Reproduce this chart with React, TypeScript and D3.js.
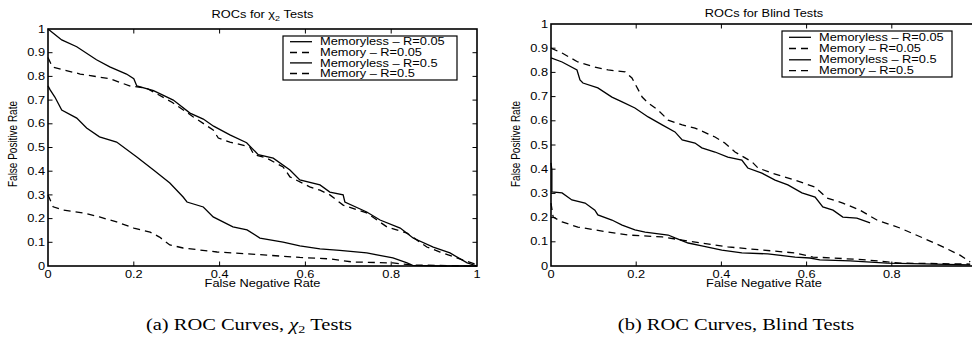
import * as d3 from "d3";

type Pt = [number, number];

// tick values
const xTicks = [0, 0.2, 0.4, 0.6, 0.8, 1];
const yTicks = [0, 0.1, 0.2, 0.3, 0.4, 0.5, 0.6, 0.7, 0.8, 0.9, 1];

const legendLabels = [
    "Memoryless \u2013 R=0.05",
    "Memory \u2013 R=0.05",
    "Memoryless \u2013 R=0.5",
    "Memory \u2013 R=0.5",
];
const legendDashed = [false, true, false, true];

// (a) chi2 tests
const chiMemorylessR005: Pt[] = [
    [0, 1], [0.032, 0.954], [0.067, 0.925], [0.113, 0.87], [0.144, 0.84], [0.183, 0.81], [0.2, 0.79],
    [0.207, 0.76], [0.246, 0.74], [0.292, 0.7], [0.331, 0.645], [0.362, 0.62], [0.386, 0.59],
    [0.424, 0.553], [0.463, 0.52], [0.49, 0.47], [0.525, 0.455], [0.564, 0.405], [0.587, 0.363],
    [0.634, 0.342], [0.657, 0.312], [0.688, 0.3], [0.692, 0.27], [0.743, 0.228], [0.774, 0.194],
    [0.821, 0.16], [0.851, 0.118], [0.898, 0.08], [0.937, 0.055], [0.977, 0.013], [1, 0],
];
const chiMemoryR005: Pt[] = [
    [0, 0.88], [0.01, 0.84], [0.075, 0.81], [0.145, 0.79], [0.19, 0.76], [0.23, 0.75], [0.29, 0.69],
    [0.338, 0.63], [0.385, 0.574], [0.397, 0.54], [0.424, 0.523], [0.47, 0.503], [0.48, 0.47],
    [0.51, 0.455], [0.548, 0.418], [0.564, 0.376], [0.61, 0.334], [0.634, 0.32], [0.657, 0.3],
    [0.688, 0.257], [0.743, 0.224], [0.79, 0.165], [0.837, 0.139], [0.883, 0.08], [0.914, 0.059],
    [0.953, 0.034], [1, 0.005],
];
const chiMemorylessR05: Pt[] = [
    [0, 0.76], [0.005, 0.743], [0.016, 0.713], [0.032, 0.658], [0.067, 0.624], [0.09, 0.582],
    [0.12, 0.545], [0.16, 0.523], [0.207, 0.46], [0.246, 0.405], [0.284, 0.35], [0.315, 0.291],
    [0.324, 0.27], [0.362, 0.249], [0.385, 0.207], [0.431, 0.165], [0.464, 0.152], [0.494, 0.118],
    [0.548, 0.101], [0.587, 0.085], [0.634, 0.072], [0.68, 0.066], [0.743, 0.055], [0.804, 0.034],
    [0.837, 0.013], [0.85, 0.003], [0.914, 0], [1, 0],
];
const chiMemoryR05: Pt[] = [
    [0, 0.3], [0.012, 0.25], [0.035, 0.236], [0.082, 0.224], [0.12, 0.207], [0.16, 0.186], [0.2, 0.16],
    [0.238, 0.143], [0.26, 0.122], [0.284, 0.089], [0.315, 0.076], [0.394, 0.059], [0.51, 0.046],
    [0.587, 0.036], [0.657, 0.03], [0.71, 0.017], [0.804, 0.013], [0.85, 0.004], [1, 0],
];

// (b) blind tests
const blindMemorylessR005: Pt[] = [
    [0, 0.86], [0.026, 0.843], [0.061, 0.81], [0.068, 0.769], [0.075, 0.756], [0.11, 0.736],
    [0.143, 0.698], [0.167, 0.678], [0.197, 0.653], [0.228, 0.616], [0.261, 0.583], [0.291, 0.554],
    [0.308, 0.521], [0.338, 0.508], [0.354, 0.488], [0.385, 0.471], [0.415, 0.45], [0.448, 0.438],
    [0.462, 0.405], [0.495, 0.384], [0.526, 0.355], [0.556, 0.335], [0.589, 0.302], [0.62, 0.285],
    [0.638, 0.244], [0.662, 0.231], [0.685, 0.202], [0.718, 0.198], [0.749, 0.178],
];
const blindMemoryR005: Pt[] = [
    [0, 0.9], [0.026, 0.88], [0.063, 0.843], [0.103, 0.822], [0.134, 0.81], [0.174, 0.802],
    [0.19, 0.777], [0.214, 0.698], [0.228, 0.674], [0.251, 0.645], [0.275, 0.603], [0.308, 0.583],
    [0.338, 0.57], [0.385, 0.533], [0.408, 0.508], [0.432, 0.471], [0.472, 0.43], [0.486, 0.405],
    [0.519, 0.384], [0.573, 0.355], [0.62, 0.326], [0.648, 0.281], [0.685, 0.26], [0.725, 0.231],
    [0.765, 0.19], [0.819, 0.157], [0.873, 0.116], [0.92, 0.079], [0.96, 0.045], [0.984, 0.017],
];
const blindMemorylessR05: Pt[] = [
    [0, 0.426], [0.002, 0.397], [0.002, 0.306], [0.026, 0.302], [0.049, 0.273], [0.08, 0.26],
    [0.103, 0.231], [0.11, 0.211], [0.143, 0.19], [0.167, 0.169], [0.197, 0.149], [0.221, 0.14],
    [0.275, 0.128], [0.291, 0.116], [0.322, 0.095], [0.354, 0.083], [0.401, 0.066], [0.448, 0.054],
    [0.509, 0.05], [0.573, 0.037], [0.608, 0.033], [0.631, 0.025], [0.702, 0.021], [0.789, 0.012],
    [0.984, 0.005],
];
const blindMemoryR05: Pt[] = [
    [0, 0.26], [0.005, 0.202], [0.026, 0.182], [0.063, 0.161], [0.103, 0.149], [0.181, 0.128],
    [0.261, 0.12], [0.308, 0.107], [0.354, 0.095], [0.415, 0.079], [0.495, 0.066], [0.573, 0.054],
    [0.615, 0.037], [0.662, 0.033], [0.742, 0.025], [0.819, 0.012], [0.984, 0.008],
];

const SX = 1.28; // glyphs in the picture are horizontally stretched
const FONT = "'Liberation Sans', Arial, Helvetica, sans-serif";
const DASH = "7,5";

function T({ x, y, size = 10, anchor = "start", rotate = false, font = FONT, children }: any) {
    return (
        <g transform={`translate(${x},${y}) scale(${SX},1)${rotate ? " rotate(-90)" : ""}`}>
            <text fontFamily={font} fontSize={size} textAnchor={anchor} fill="#000">
                {children}
            </text>
        </g>
    );
}

interface PanelProps {
    curves: Pt[][];
    x0: number;
    x1: number;
    yTop: number;
    yBot: number;
    title: any;
    titleY: number;
    xLabels: number[];
    legend: { x: number; y: number; w: number; h: number; rows: number[] };
    yLabelX: number;
}

function Panel({ curves, x0, x1, yTop, yBot, title, titleY, xLabels, legend, yLabelX }: PanelProps) {
    const x = d3.scaleLinear().domain([0, 1]).range([x0, x1]);
    const y = d3.scaleLinear().domain([0, 1]).range([yBot, yTop]);
    const line = d3.line<Pt>().x((d) => x(d[0])).y((d) => y(d[1]));
    const tick = 4.5;
    const cx = (x0 + x1) / 2;

    return (
        <g>
            {/* curves */}
            {curves.map((c, i) => (
                <path key={i} d={line(c) ?? ""} fill="none" stroke="#000" strokeWidth={1.3}
                    strokeDasharray={legendDashed[i] ? DASH : undefined} />
            ))}

            {/* box */}
            <rect x={x0} y={yTop} width={x1 - x0} height={yBot - yTop} fill="none" stroke="#000" strokeWidth={1.6} />

            {/* ticks */}
            {xTicks.slice(1, -1).map((v) => (
                <g key={"xt" + v}>
                    <line x1={x(v)} x2={x(v)} y1={yBot} y2={yBot - tick} stroke="#000" strokeWidth={1} />
                    <line x1={x(v)} x2={x(v)} y1={yTop} y2={yTop + tick} stroke="#000" strokeWidth={1} />
                </g>
            ))}
            {yTicks.slice(1, -1).map((v) => (
                <g key={"yt" + v}>
                    <line x1={x0} x2={x0 + tick} y1={y(v)} y2={y(v)} stroke="#000" strokeWidth={1} />
                    <line x1={x1} x2={x1 - tick} y1={y(v)} y2={y(v)} stroke="#000" strokeWidth={1} />
                </g>
            ))}

            {/* tick labels */}
            {yTicks.map((v) => (
                <T key={"yl" + v} x={x0 - 3} y={y(v) + 3.6} anchor="end">{d3.format("~g")(v)}</T>
            ))}
            {xLabels.map((v) => (
                <T key={"xl" + v} x={x(v)} y={yBot + 11.5} anchor="middle">{d3.format("~g")(v)}</T>
            ))}

            {/* axis labels and title */}
            <T x={cx} y={yBot + 21} anchor="middle">False Negative Rate</T>
            <T x={yLabelX} y={144} anchor="middle" rotate>False Positive Rate</T>
            <T x={cx} y={titleY} anchor="middle">{title}</T>

            {/* legend */}
            <rect x={legend.x} y={legend.y} width={legend.w} height={legend.h} fill="#fff" stroke="#000" strokeWidth={1.2} />
            {legendLabels.map((lab, i) => (
                <g key={lab}>
                    <line x1={legend.x + 7} x2={legend.x + 29} y1={legend.rows[i]} y2={legend.rows[i]}
                        stroke="#000" strokeWidth={1.3} strokeDasharray={legendDashed[i] ? DASH : undefined} />
                    <T x={legend.x + 37} y={legend.rows[i] + 3.6}>{lab}</T>
                </g>
            ))}
        </g>
    );
}

export default function App() {
    const chi = (
        <>
            ROCs for {"\u03c7"}
            <tspan fontSize={7} dy={3}>2</tspan>
            <tspan dy={-3}> Tests</tspan>
        </>
    );
    const serif = "'Liberation Serif', 'Times New Roman', serif";
    return (
        <div style={{ position: "absolute", left: 0, top: 0 }}>
            <svg width={972} height={352} style={{ display: "block", background: "#fff" }}>
                <Panel
                    curves={[chiMemorylessR005, chiMemoryR005, chiMemorylessR05, chiMemoryR05]}
                    x0={48} x1={477} yTop={29} yBot={266}
                    title={chi} titleY={17.5}
                    xLabels={xTicks}
                    legend={{ x: 283, y: 36, w: 174, h: 44, rows: [41.7, 52.5, 62.9, 73.5] }}
                    yLabelX={17}
                />
                <Panel
                    curves={[blindMemorylessR005, blindMemoryR005, blindMemorylessR05, blindMemoryR05]}
                    x0={551} x1={977} yTop={24} yBot={266}
                    title="ROCs for Blind Tests" titleY={16.5}
                    xLabels={xTicks.slice(0, -1)}
                    legend={{ x: 782, y: 31, w: 170, h: 46, rows: [37.3, 48.5, 59.8, 70.7] }}
                    yLabelX={520}
                />
                <T x={249} y={330} size={16} anchor="middle" font={serif}>
                    (a) ROC Curves, <tspan fontStyle="italic">{"\u03c7"}</tspan>
                    <tspan fontSize={11} dy={3}>2</tspan>
                    <tspan dy={-3}> Tests</tspan>
                </T>
                <T x={736} y={330} size={16} anchor="middle" font={serif}>
                    (b) ROC Curves, Blind Tests
                </T>
            </svg>
        </div>
    );
}
